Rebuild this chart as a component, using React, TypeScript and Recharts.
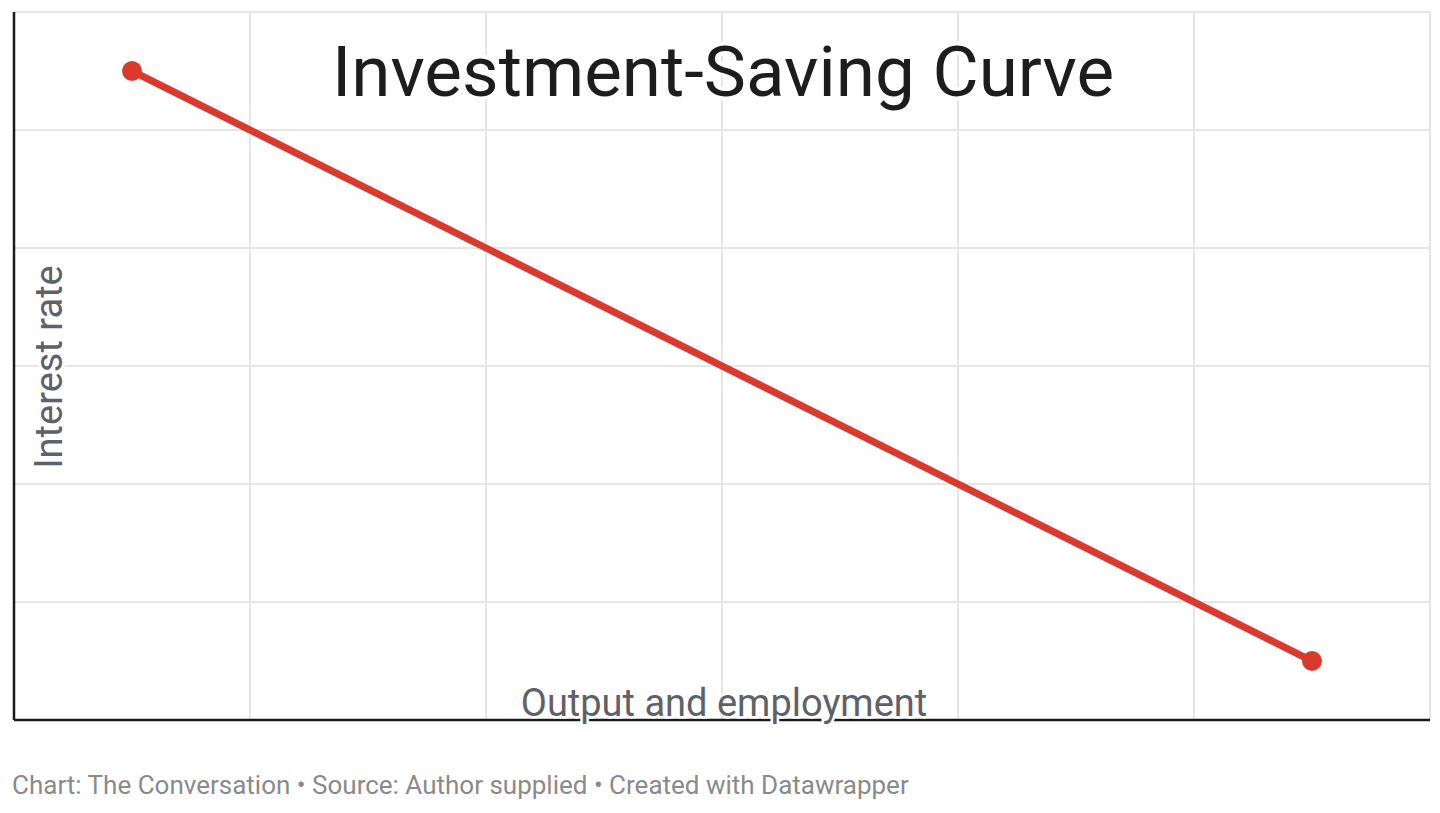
import { LineChart, Line, XAxis, YAxis, CartesianGrid } from 'recharts';

// curve endpoints (axis units 0..6)
const outputLevels = [0.5, 5.5];
const interestRates = [5.5, 0.5];
const gridTicks = [0, 1, 2, 3, 4, 5, 6];

const title = 'Investment-Saving Curve';
const xTitle = 'Output and employment';
const yTitle = 'Interest rate';
const footer = 'Chart: The Conversation \u2022 Source: Author supplied \u2022 Created with Datawrapper';

const data = outputLevels.map((x, i) => ({ x, y: interestRates[i] }));

const RED = '#d93a2e';
const FONT = 'Roboto, "Noto Sans", sans-serif';

const NoTick = () => <g />;

export default function App() {
  return (
    <div style={{ position: 'absolute', left: 0, top: 0, width: 1440, height: 813, background: '#fff', fontFamily: FONT }}>
      <LineChart width={1440} height={740} data={data} margin={{ top: 12, right: 10, bottom: 19, left: 13 }}>
        <CartesianGrid stroke="#e6e6e6" strokeWidth={2} />
        <XAxis
          dataKey="x"
          type="number"
          domain={[0, 6]}
          ticks={gridTicks}
          interval={0}
          tick={NoTick}
          tickLine={false}
          height={1}
          axisLine={{ stroke: '#1a1a1a', strokeWidth: 2.5 }}
        />
        <YAxis
          dataKey="y"
          type="number"
          domain={[0, 6]}
          ticks={gridTicks}
          interval={0}
          tick={NoTick}
          tickLine={false}
          width={1}
          axisLine={{ stroke: '#1a1a1a', strokeWidth: 2.5 }}
        />
        <Line
          dataKey="y"
          stroke={RED}
          strokeWidth={7}
          dot={{ r: 10, fill: RED, stroke: 'none' }}
          isAnimationActive={false}
        />
      </LineChart>
      <svg width={1440} height={813} style={{ position: 'absolute', left: 0, top: 0, pointerEvents: 'none' }}>
        <text x={723} y={96} textAnchor="middle" fontSize={71} fill="#1d1d1d" fontFamily={FONT}
          stroke="#fff" strokeWidth={8} paintOrder="stroke">
          {title}
        </text>
        <text x={724} y={716} textAnchor="middle" fontSize={38} fill="#5f6168" fontFamily={FONT}
          stroke="#fff" strokeWidth={5} paintOrder="stroke">
          {xTitle}
        </text>
        <text transform="translate(62,367) rotate(-90)" textAnchor="middle" fontSize={38} fill="#5f6168" fontFamily={FONT}
          stroke="#fff" strokeWidth={6} paintOrder="stroke">
          {yTitle}
        </text>
        <text x={12} y={794} fontSize={26} fill="#8a8a8a" fontFamily={FONT}>
          {footer}
        </text>
      </svg>
    </div>
  );
}
